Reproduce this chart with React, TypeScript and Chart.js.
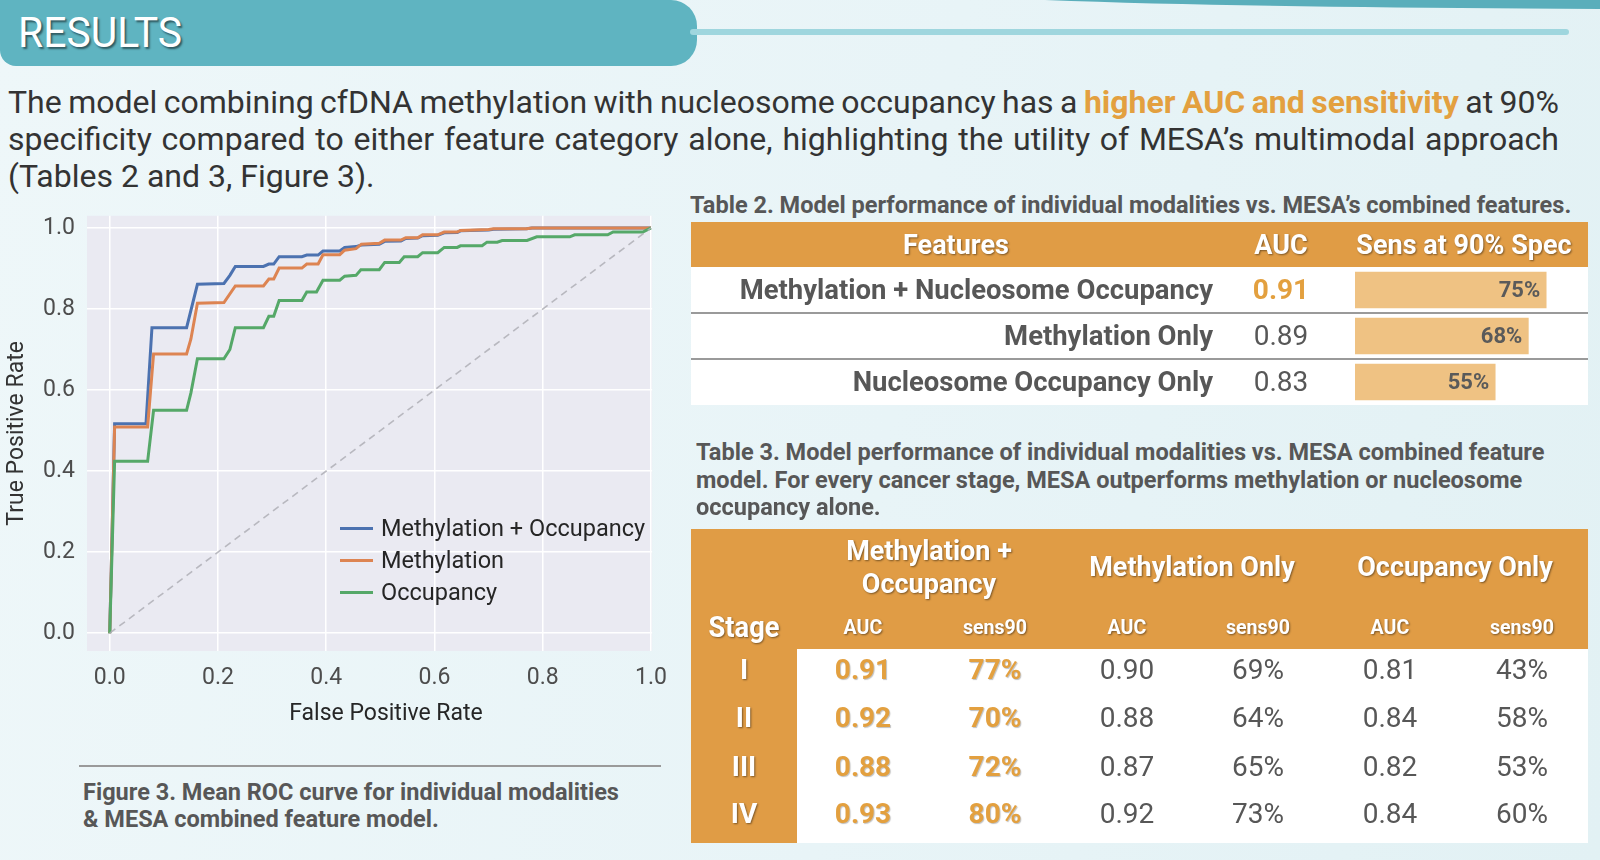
import React, { useEffect, useRef } from 'react';
import { Chart, registerables } from 'chart.js';
Chart.register(...registerables);

const FONT = 'Roboto, "Noto Sans", "DejaVu Sans", sans-serif';

// ---------- Figure 3: mean ROC curves (fpr, tpr) ----------
const rocMethOcc: [number, number][] = [
  [0, 0], [0.009, 0.517], [0.067, 0.517], [0.078, 0.754], [0.142, 0.754], [0.162, 0.861],
  [0.211, 0.863], [0.222, 0.883], [0.232, 0.905], [0.284, 0.905], [0.294, 0.911], [0.303, 0.911],
  [0.313, 0.929], [0.355, 0.929], [0.364, 0.933], [0.385, 0.933], [0.394, 0.943], [0.425, 0.943],
  [0.434, 0.952], [0.455, 0.954], [0.465, 0.958], [0.498, 0.960], [0.508, 0.967], [0.538, 0.968],
  [0.547, 0.974], [0.569, 0.975], [0.578, 0.981], [0.606, 0.982], [0.618, 0.988], [0.642, 0.989],
  [0.648, 0.993], [0.70, 0.995], [0.709, 0.997], [0.77, 0.998], [0.78, 1.0], [1.0, 1.0],
];
const rocMeth: [number, number][] = [
  [0, 0], [0.009, 0.509], [0.070, 0.509], [0.081, 0.689], [0.142, 0.689], [0.150, 0.726],
  [0.162, 0.814], [0.211, 0.816], [0.232, 0.857], [0.284, 0.857], [0.294, 0.874], [0.303, 0.874],
  [0.313, 0.901], [0.355, 0.901], [0.364, 0.911], [0.385, 0.911], [0.394, 0.934], [0.425, 0.934],
  [0.434, 0.945], [0.455, 0.949], [0.465, 0.960], [0.498, 0.962], [0.508, 0.970], [0.538, 0.970],
  [0.547, 0.976], [0.569, 0.976], [0.578, 0.983], [0.606, 0.983], [0.618, 0.990], [0.642, 0.990],
  [0.648, 0.994], [0.70, 0.996], [0.709, 0.998], [0.77, 0.998], [0.78, 1.0], [1.0, 1.0],
];
const rocOcc: [number, number][] = [
  [0, 0], [0.009, 0.424], [0.070, 0.424], [0.081, 0.550], [0.142, 0.550], [0.150, 0.593],
  [0.162, 0.677], [0.211, 0.677], [0.222, 0.700], [0.232, 0.754], [0.284, 0.754], [0.294, 0.782],
  [0.303, 0.782], [0.313, 0.821], [0.355, 0.821], [0.364, 0.842], [0.382, 0.842], [0.394, 0.871],
  [0.425, 0.871], [0.434, 0.881], [0.455, 0.883], [0.464, 0.897], [0.498, 0.897], [0.508, 0.915],
  [0.535, 0.915], [0.544, 0.929], [0.569, 0.929], [0.578, 0.939], [0.606, 0.939], [0.618, 0.952],
  [0.642, 0.952], [0.648, 0.956], [0.688, 0.956], [0.697, 0.965], [0.716, 0.965], [0.725, 0.969],
  [0.771, 0.969], [0.789, 0.978], [0.850, 0.978], [0.859, 0.983], [0.920, 0.983], [0.930, 0.990],
  [0.985, 0.990], [1.0, 1.0],
];
const chanceLine: [number, number][] = [[0, 0], [1, 1]];
const seriesLabels = ['Methylation + Occupancy', 'Methylation', 'Occupancy'];
const seriesColors = ['#4c72b0', '#dd8452', '#55a868'];
const axisTicks = [0, 0.2, 0.4, 0.6, 0.8, 1.0];

// ---------- Table 2 ----------
const t2Features = ['Methylation + Nucleosome Occupancy', 'Methylation Only', 'Nucleosome Occupancy Only'];
const t2AUC = [0.91, 0.89, 0.83];
const t2Sens = [75, 68, 55];

// ---------- Table 3 ----------
const stages = ['I', 'II', 'III', 'IV'];
const mesaAUC = [0.91, 0.92, 0.88, 0.93];
const mesaSens = [77, 70, 72, 80];
const methAUC = [0.90, 0.88, 0.87, 0.92];
const methSens = [69, 64, 65, 73];
const occAUC = [0.81, 0.84, 0.82, 0.84];
const occSens = [43, 58, 53, 60];

const ORANGE = '#e09c45';
const HILITE = '#e3a03f';
const GREY = '#575757';
const SHADOW = '1px 1px 2px rgba(0,0,0,0.45)';

type TxtProps = {
  x: number; y: number; size: number; weight?: number; color?: string;
  align?: 'left' | 'center' | 'right'; sx?: number; lh?: number; shadow?: string; children: React.ReactNode;
};
function Txt({ x, y, size, weight = 400, color = GREY, align = 'left', sx = 1, lh, shadow, children }: TxtProps) {
  const h = lh ?? Math.round(size * 1.3);
  const W = 1000;
  let left = x;
  let origin = 'left center';
  if (align === 'center') { left = x - W / 2; origin = 'center center'; }
  if (align === 'right') { left = x - W; origin = 'right center'; }
  return (
    <div style={{
      position: 'absolute', left, top: y - h / 2, width: W, height: h, lineHeight: h + 'px',
      fontSize: size, fontWeight: weight, color, textAlign: align, whiteSpace: 'nowrap',
      transform: sx !== 1 ? `scaleX(${sx})` : undefined, transformOrigin: origin, textShadow: shadow,
    }}>{children}</div>
  );
}

function JustLine({ words, last }: { words: [string, boolean][]; last?: boolean }) {
  return (
    <div style={{ display: 'flex', justifyContent: last ? 'flex-start' : 'space-between', whiteSpace: 'nowrap', gap: last ? '0.25em' : undefined }}>
      {words.map(([w, hi], i) => (
        <span key={i} style={hi ? { color: HILITE, fontWeight: 700 } : undefined}>{w}</span>
      ))}
    </div>
  );
}
const splitWords = (s: string, hi = false): [string, boolean][] => s.split(' ').map((w) => [w, hi]);

const toXY = (arr: [number, number][]) => arr.map(([x, y]) => ({ x, y }));

function RocChart() {
  const ref = useRef<HTMLCanvasElement | null>(null);
  useEffect(() => {
    if (!ref.current) return;
    const bgPlugin = {
      id: 'plotBg',
      beforeDraw(chart: any) {
        const { ctx, chartArea: a } = chart;
        ctx.save();
        ctx.fillStyle = '#eaeaf2';
        ctx.fillRect(a.left, a.top, a.right - a.left, a.bottom - a.top);
        ctx.restore();
      },
    };
    const tickFont = { family: FONT, size: 23 };
    const chart = new Chart(ref.current, {
      type: 'scatter',
      data: {
        datasets: [
          { label: seriesLabels[0], data: toXY(rocMethOcc), borderColor: seriesColors[0], order: 4 },
          { label: seriesLabels[1], data: toXY(rocMeth), borderColor: seriesColors[1], order: 3 },
          { label: seriesLabels[2], data: toXY(rocOcc), borderColor: seriesColors[2], order: 2 },
          { label: 'Chance', data: toXY(chanceLine), borderColor: 'rgba(175,175,182,0.85)', borderDash: [7, 5], borderWidth: 1.6, order: 1 },
        ].map((d: any) => ({ showLine: true, pointRadius: 0, borderWidth: 3, fill: false, tension: 0, ...d })),
      },
      options: {
        animation: false,
        responsive: false,
        devicePixelRatio: 1,
        layout: { padding: { top: 18, right: 24, left: 0, bottom: 0 } },
        plugins: { legend: { display: false }, tooltip: { enabled: false } },
        scales: {
          x: {
            type: 'linear', min: -0.042, max: 1.002,
            afterBuildTicks: (s: any) => { s.ticks = axisTicks.map((v) => ({ value: v })); },
            afterFit: (s: any) => { s.height = 89; },
            grid: { color: '#ffffff', lineWidth: 1.5, drawTicks: false },
            border: { display: false },
            ticks: { padding: 13, color: '#4d4d4d', font: tickFont, maxRotation: 0, autoSkip: false, callback: (v: any) => Number(v).toFixed(1) },
            title: { display: false },
          },
          y: {
            type: 'linear', min: -0.044, max: 1.03,
            afterBuildTicks: (s: any) => { s.ticks = axisTicks.map((v) => ({ value: v })); },
            afterFit: (s: any) => { s.width = 87; },
            grid: { color: '#ffffff', lineWidth: 1.5, drawTicks: false },
            border: { display: false },
            ticks: { padding: 12, color: '#4d4d4d', font: tickFont, autoSkip: false, callback: (v: any) => Number(v).toFixed(1) },
            title: { display: true, text: 'True Positive Rate', color: '#333333', font: { family: FONT, size: 23 }, padding: { top: 3, bottom: 0 } },
          },
        },
      } as any,
      plugins: [bgPlugin],
    });
    return () => chart.destroy();
  }, []);
  return <canvas ref={ref} width={680} height={550} style={{ position: 'absolute', left: 0, top: 190, width: 680, height: 550 }} />;
}

function SensBars() {
  const ref = useRef<HTMLCanvasElement | null>(null);
  useEffect(() => {
    if (!ref.current) return;
    const labelPlugin = {
      id: 'barLabels',
      afterDatasetsDraw(chart: any) {
        const { ctx } = chart;
        const meta = chart.getDatasetMeta(0);
        ctx.save();
        ctx.font = `700 22px ${FONT}`;
        ctx.fillStyle = '#5a5a5a';
        ctx.textAlign = 'right';
        ctx.textBaseline = 'middle';
        meta.data.forEach((bar: any, i: number) => {
          ctx.fillText(`${t2Sens[i]}%`, bar.x - 6, bar.y + 1);
        });
        ctx.restore();
      },
    };
    const chart = new Chart(ref.current, {
      type: 'bar',
      data: {
        labels: t2Features,
        datasets: [{ data: t2Sens, backgroundColor: '#efc283', borderWidth: 0, barThickness: 36 }],
      },
      options: {
        indexAxis: 'y',
        animation: false,
        responsive: false,
        devicePixelRatio: 1,
        layout: { padding: 0 },
        plugins: { legend: { display: false }, tooltip: { enabled: false } },
        scales: { x: { display: false, min: 0, max: 91.4 }, y: { display: false } },
      } as any,
      plugins: [labelPlugin],
    });
    return () => chart.destroy();
  }, []);
  return <canvas ref={ref} width={233} height={138} style={{ position: 'absolute', left: 1355, top: 267, width: 233, height: 138 }} />;
}

export default function App() {
  const t2RowY = [290, 336, 382];
  const t3RowY = [670, 718, 767, 814];
  const t3ColX = [863, 995, 1127, 1258, 1390, 1522];
  const t3Cols = [mesaAUC, mesaSens, methAUC, methSens, occAUC, occSens];
  const line1: [string, boolean][] = [
    ...splitWords('The model combining cfDNA methylation with nucleosome occupancy has a'),
    ...splitWords('higher AUC and sensitivity', true),
    ...splitWords('at 90%'),
  ];
  const line2 = splitWords('specificity compared to either feature category alone, highlighting the utility of MESA’s multimodal approach');
  const line3 = splitWords('(Tables 2 and 3, Figure 3).');
  return (
    <div style={{
      position: 'absolute', left: 0, top: 0, width: 1600, height: 860, overflow: 'hidden',
      fontFamily: FONT, background: 'linear-gradient(100deg, #eef7f9 0%, #e8f4f7 55%, #e2f1f4 100%)',
    }}>
      {/* decorative header */}
      <svg width={1600} height={20} style={{ position: 'absolute', left: 0, top: 0 }}>
        <path d="M 1045 0 C 1200 6 1400 8 1600 9 L 1600 0 Z" fill="#5aaebb" />
      </svg>
      <div style={{ position: 'absolute', left: 0, top: 0, width: 697, height: 66, background: '#5fb4c1', borderRadius: '0 26px 26px 16px' }} />
      <div style={{ position: 'absolute', left: 690, top: 29, width: 879, height: 6, background: '#9fd6de', borderRadius: 3 }} />
      <Txt x={18} y={32} size={43} color="#ffffff" sx={0.95} shadow="2px 2px 2px rgba(0,0,0,0.5)">RESULTS</Txt>

      {/* intro paragraph */}
      <div style={{ position: 'absolute', left: 8, top: 83.5, width: 1551, fontSize: 32, lineHeight: '37px', color: '#333333' }}>
        <JustLine words={line1} />
        <JustLine words={line2} />
        <JustLine words={line3} last />
      </div>

      {/* Figure 3 */}
      <RocChart />
      <Txt x={386} y={713} size={23} color="#262626" align="center">False Positive Rate</Txt>
      {seriesLabels.map((l, i) => (
        <React.Fragment key={l}>
          <div style={{ position: 'absolute', left: 340, top: 528 + i * 32 - 1.5, width: 33, height: 3, background: seriesColors[i] }} />
          <Txt x={381} y={528 + i * 32} size={23.5} color="#262626">{l}</Txt>
        </React.Fragment>
      ))}
      <div style={{ position: 'absolute', left: 79, top: 765, width: 582, height: 2, background: '#9a9a9a' }} />
      <Txt x={83} y={792} size={24} weight={700} sx={0.98}>Figure 3. Mean ROC curve for individual modalities</Txt>
      <Txt x={83} y={819} size={24} weight={700} sx={0.98}>&amp; MESA combined feature model.</Txt>

      {/* Table 2 */}
      <Txt x={690} y={205} size={24} weight={700} sx={0.98}>Table 2. Model performance of individual modalities vs. MESA’s combined features.</Txt>
      <div style={{ position: 'absolute', left: 691, top: 222, width: 897, height: 45, background: ORANGE }} />
      <Txt x={956} y={245} size={27} weight={700} color="#fff" shadow={SHADOW} align="center">Features</Txt>
      <Txt x={1281} y={245} size={27} weight={700} color="#fff" shadow={SHADOW} align="center">AUC</Txt>
      <Txt x={1464} y={245} size={27} weight={700} color="#fff" shadow={SHADOW} align="center">Sens at 90% Spec</Txt>
      <div style={{ position: 'absolute', left: 691, top: 267, width: 897, height: 138, background: '#ffffff' }} />
      <div style={{ position: 'absolute', left: 691, top: 312, width: 897, height: 2, background: '#9a9a9a' }} />
      <div style={{ position: 'absolute', left: 691, top: 358, width: 897, height: 2, background: '#9a9a9a' }} />
      {t2Features.map((f, i) => (
        <React.Fragment key={f}>
          <Txt x={1213} y={t2RowY[i]} size={28} weight={700} align="right" sx={0.98}>{f}</Txt>
          <Txt x={1281} y={t2RowY[i]} size={28} weight={i === 0 ? 700 : 400} color={i === 0 ? HILITE : GREY} align="center">
            {t2AUC[i].toFixed(2)}
          </Txt>
        </React.Fragment>
      ))}
      <SensBars />

      {/* Table 3 */}
      <Txt x={696} y={452} size={24} weight={700} sx={0.98}>Table 3. Model performance of individual modalities vs. MESA combined feature</Txt>
      <Txt x={696} y={480} size={24} weight={700} sx={0.98}>model. For every cancer stage, MESA outperforms methylation or nucleosome</Txt>
      <Txt x={696} y={507} size={24} weight={700} sx={0.98}>occupancy alone.</Txt>
      <div style={{ position: 'absolute', left: 691, top: 529, width: 897, height: 120, background: ORANGE }} />
      <div style={{ position: 'absolute', left: 691, top: 649, width: 106, height: 194, background: ORANGE }} />
      <div style={{ position: 'absolute', left: 797, top: 649, width: 791, height: 194, background: '#ffffff' }} />
      <Txt x={929} y={551} size={27} weight={700} color="#fff" shadow={SHADOW} align="center">Methylation +</Txt>
      <Txt x={929} y={584} size={27} weight={700} color="#fff" shadow={SHADOW} align="center">Occupancy</Txt>
      <Txt x={1192} y={567} size={27} weight={700} color="#fff" shadow={SHADOW} align="center">Methylation Only</Txt>
      <Txt x={1455} y={567} size={27} weight={700} color="#fff" shadow={SHADOW} align="center">Occupancy Only</Txt>
      <Txt x={744} y={627} size={29} weight={700} color="#fff" sx={0.94} shadow={SHADOW} align="center">Stage</Txt>
      {t3ColX.map((cx, j) => (
        <Txt key={'h' + j} x={cx} y={627} size={20} weight={700} color="#fff" sx={0.98} shadow={SHADOW} align="center">
          {j % 2 === 0 ? 'AUC' : 'sens90'}
        </Txt>
      ))}
      {stages.map((s, i) => (
        <React.Fragment key={s}>
          <Txt x={744} y={t3RowY[i]} size={28} weight={700} color="#fff" shadow={SHADOW} align="center">{s}</Txt>
          {t3Cols.map((col, j) => {
            const isMesa = j < 2;
            const txt = j % 2 === 0 ? col[i].toFixed(2) : `${col[i]}%`;
            return (
              <Txt key={j} x={t3ColX[j]} y={t3RowY[i]} size={28} weight={isMesa ? 700 : 400}
                color={isMesa ? HILITE : GREY} align="center"
                shadow={isMesa ? '1px 1px 1px rgba(0,0,0,0.25)' : undefined}>{txt}</Txt>
            );
          })}
        </React.Fragment>
      ))}
    </div>
  );
}
